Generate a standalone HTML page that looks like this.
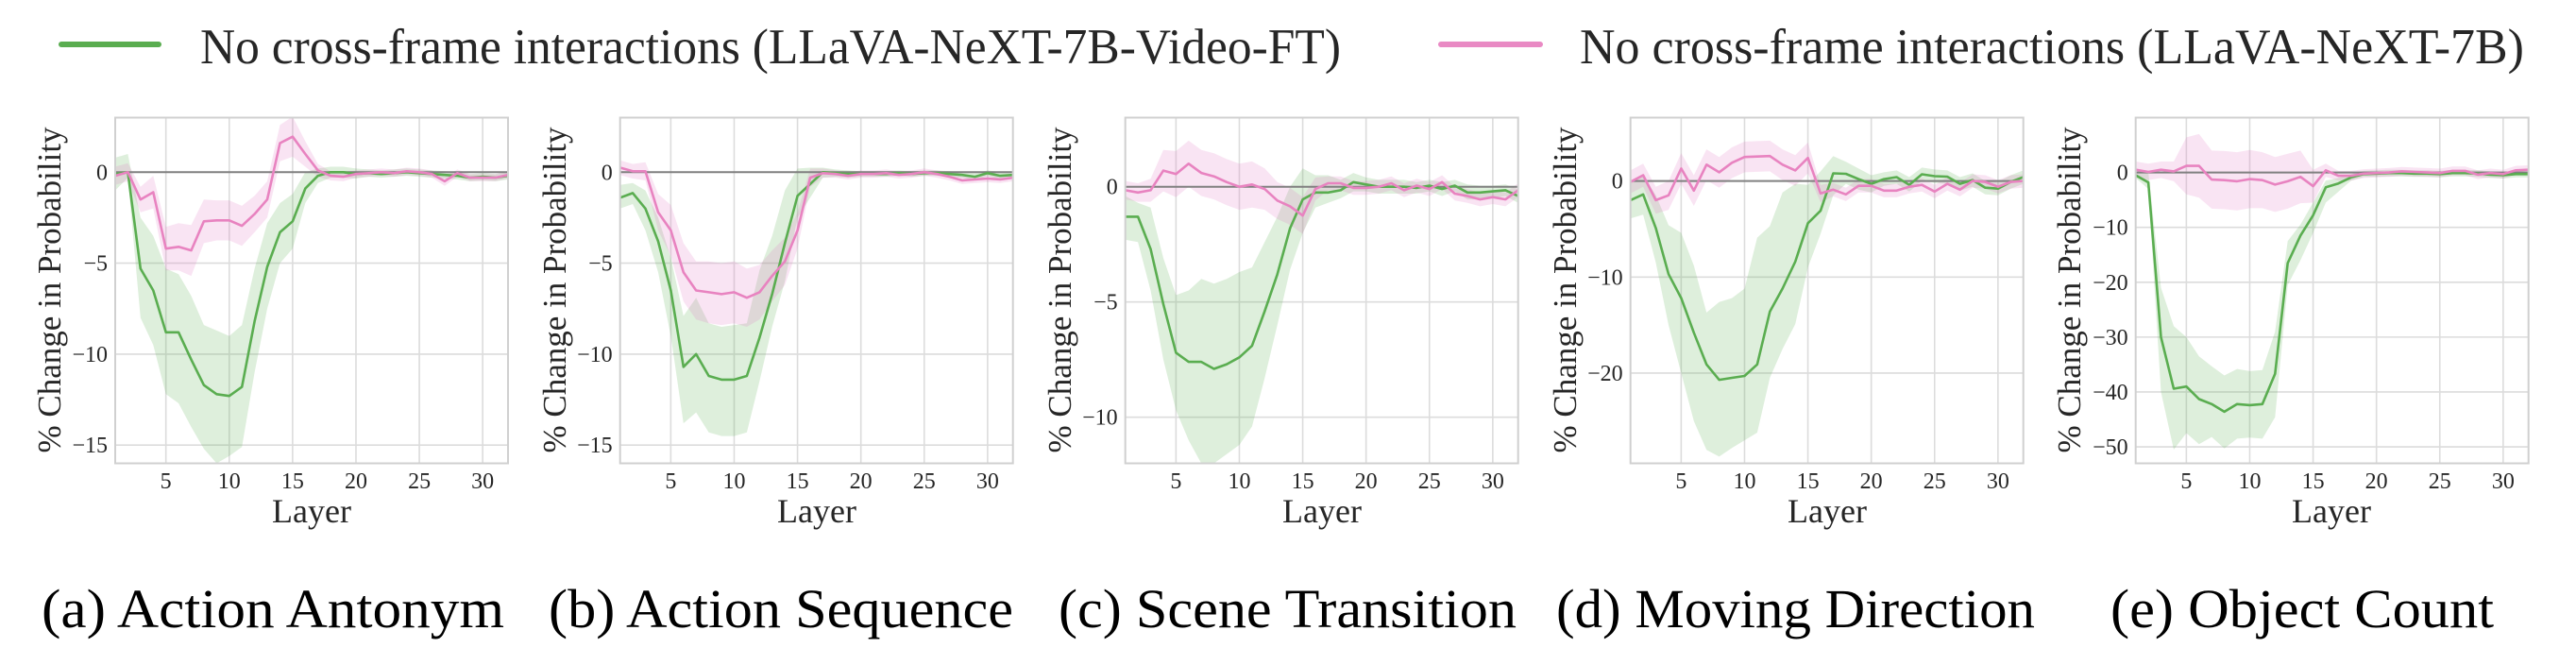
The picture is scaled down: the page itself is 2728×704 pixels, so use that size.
<!DOCTYPE html>
<html><head><meta charset="utf-8"><style>
html,body{margin:0;padding:0;background:#fff;}
svg{display:block;}
svg, svg text{font-family:"Liberation Serif","DejaVu Serif",serif;}
</style></head><body>
<svg id="s" width="2728" height="704" viewBox="0 0 2728 704" xmlns="http://www.w3.org/2000/svg" font-family="Liberation Serif, DejaVu Serif, serif">
<rect width="2728" height="704" fill="#fff"/>
<line x1="65" y1="47" x2="168" y2="47" stroke="#5aad50" stroke-width="6" stroke-linecap="round"/>
<text x="212" y="67" font-family="Liberation Serif, serif" font-size="53" fill="#262626" textLength="1208" lengthAdjust="spacingAndGlyphs">No cross-frame interactions (LLaVA-NeXT-7B-Video-FT)</text>
<line x1="1526" y1="47" x2="1631" y2="47" stroke="#e98ac4" stroke-width="6" stroke-linecap="round"/>
<text x="1673" y="67" font-family="Liberation Serif, serif" font-size="53" fill="#262626" textLength="1000" lengthAdjust="spacingAndGlyphs">No cross-frame interactions (LLaVA-NeXT-7B)</text>
<g id="plots"></g>
<g font-family="Liberation Serif, serif" font-size="58" fill="#000">
<text x="44" y="664" textLength="490" lengthAdjust="spacingAndGlyphs">(a) Action Antonym</text>
<text x="581" y="664" textLength="492" lengthAdjust="spacingAndGlyphs">(b) Action Sequence</text>
<text x="1121" y="664" textLength="485" lengthAdjust="spacingAndGlyphs">(c) Scene Transition</text>
<text x="1648" y="664" textLength="507" lengthAdjust="spacingAndGlyphs">(d) Moving Direction</text>
<text x="2235" y="664" textLength="406" lengthAdjust="spacingAndGlyphs">(e) Object Count</text>
</g>
<g id="labels" font-family="Liberation Serif, serif" font-size="24" fill="#262626">
<text x="330" y="553" font-size="36" text-anchor="middle">Layer</text>
<text x="865" y="553" font-size="36" text-anchor="middle">Layer</text>
<text x="1400" y="553" font-size="36" text-anchor="middle">Layer</text>
<text x="1935" y="553" font-size="36" text-anchor="middle">Layer</text>
<text x="2469" y="553" font-size="36" text-anchor="middle">Layer</text>
<text transform="translate(64,307) rotate(-90)" font-size="35" text-anchor="middle">% Change in Probability</text>
<text transform="translate(599,307) rotate(-90)" font-size="35" text-anchor="middle">% Change in Probability</text>
<text transform="translate(1134,307) rotate(-90)" font-size="35" text-anchor="middle">% Change in Probability</text>
<text transform="translate(1669,307) rotate(-90)" font-size="35" text-anchor="middle">% Change in Probability</text>
<text transform="translate(2203,307) rotate(-90)" font-size="35" text-anchor="middle">% Change in Probability</text>
</g>
<g id="ticks" font-family="Liberation Serif, serif" font-size="24" fill="#262626"></g>
</svg>
<script>
var P=[
{l:122,ymin:-16,ymax:3,yt:[0,-5,-10,-15],
g:[-0.1,0,-5.3,-6.5,-8.8,-8.8,-10.3,-11.7,-12.2,-12.3,-11.8,-8.2,-5.2,-3.3,-2.7,-0.9,-0.2,0,0,-0.1,-0.05,-0.1,-0.05,0,-0.05,-0.1,-0.15,-0.2,-0.3,-0.25,-0.3,-0.2],
gu:[0.8,1.0,-2.5,-3.5,-5.3,-5.6,-6.8,-8.4,-8.7,-9.0,-8.4,-5.3,-2.8,-1.7,-1.2,0,0.2,0.3,0.3,0.2,0.15,0.1,0.15,0.2,0.15,0.1,0.05,0,-0.1,-0.05,-0.1,0],
gl:[-1.0,-0.3,-8.0,-9.5,-12.2,-12.7,-14,-15.2,-16,-15.6,-15.1,-11,-7.5,-5,-4.2,-1.7,-0.6,-0.3,-0.3,-0.35,-0.25,-0.3,-0.25,-0.2,-0.25,-0.3,-0.35,-0.4,-0.5,-0.45,-0.5,-0.4],
p:[-0.2,0,-1.5,-1.1,-4.2,-4.1,-4.3,-2.7,-2.65,-2.65,-2.95,-2.3,-1.5,1.6,1.95,1.0,0.1,-0.2,-0.25,-0.1,-0.05,0,-0.05,0.05,0,-0.1,-0.5,-0.05,-0.3,-0.3,-0.3,-0.15],
pe:[0.5,0.5,0.7,0.9,1.2,1.3,1.4,1.2,1.1,1.1,1.1,1.0,1.0,1.0,1.1,0.7,0.35,0.25,0.25,0.2,0.2,0.2,0.2,0.2,0.2,0.2,0.25,0.2,0.2,0.2,0.2,0.2]},
{l:656.7,ymin:-16,ymax:3,yt:[0,-5,-10,-15],
g:[-1.4,-1.15,-2.0,-3.8,-6.5,-10.7,-10.0,-11.2,-11.4,-11.4,-11.2,-9.1,-6.7,-3.9,-1.3,-0.65,0,-0.05,-0.1,-0.1,-0.1,-0.1,-0.05,-0.1,-0.05,-0.05,-0.1,-0.15,-0.25,-0.05,-0.2,-0.15],
gu:[-0.7,-0.6,-1.0,-2.5,-4.7,-7.9,-6.9,-8.3,-8.5,-8.4,-8.3,-5.4,-3.5,-1.0,0.2,0.25,0.25,0.15,0.1,0.05,0.05,0.05,0.1,0.05,0.1,0.1,0.05,0,-0.05,0.1,0,0.05],
gl:[-2.0,-1.75,-3.2,-5.5,-9,-13.8,-13.2,-14.3,-14.5,-14.5,-14.3,-11.5,-8.5,-6,-2.5,-1.4,-0.3,-0.25,-0.3,-0.25,-0.25,-0.25,-0.2,-0.25,-0.2,-0.2,-0.25,-0.3,-0.45,-0.2,-0.4,-0.3],
p:[0.25,0.05,0.05,-2.2,-3.2,-5.5,-6.5,-6.6,-6.7,-6.6,-6.9,-6.6,-5.7,-4.9,-3.2,-0.3,-0.05,-0.1,-0.2,-0.1,-0.1,-0.05,-0.15,-0.1,0,-0.1,-0.25,-0.45,-0.4,-0.35,-0.4,-0.3],
pe:[0.4,0.4,0.5,1.0,1.4,1.6,1.6,1.7,1.7,1.7,1.6,1.5,1.4,1.3,1.0,0.5,0.25,0.2,0.2,0.2,0.2,0.2,0.2,0.2,0.2,0.2,0.2,0.2,0.2,0.2,0.2,0.2]},
{l:1191.7,ymin:-12,ymax:3,yt:[0,-5,-10],
g:[-1.3,-1.3,-2.7,-5.1,-7.2,-7.6,-7.6,-7.9,-7.7,-7.4,-6.9,-5.4,-3.8,-1.8,-0.55,-0.25,-0.25,-0.15,0.2,0.1,0,0,0,-0.05,0.05,-0.1,0.05,-0.25,-0.25,-0.2,-0.15,-0.4],
gu:[-0.4,-0.7,-0.9,-3.1,-4.7,-4.5,-4.0,-4.2,-4.0,-3.7,-3.5,-2.4,-1.3,0,0.8,0.5,0.5,0.3,0.6,0.4,0.3,0.3,0.3,0.2,0.3,0.2,0.3,0.1,0.05,0.05,0.1,-0.1],
gl:[-2.3,-2.4,-4.5,-7.5,-9.7,-11,-12,-12,-11.6,-11.2,-10.4,-8.3,-6,-3.6,-2.0,-0.9,-0.7,-0.5,-0.2,-0.2,-0.3,-0.3,-0.3,-0.3,-0.2,-0.4,-0.2,-0.55,-0.55,-0.5,-0.4,-0.7],
p:[-0.15,-0.25,-0.15,0.7,0.55,1.0,0.6,0.45,0.2,0,0.1,-0.1,-0.6,-0.85,-1.25,-0.1,0.15,0.15,-0.05,-0.05,0,0.15,-0.15,0.05,-0.1,0.2,-0.3,-0.4,-0.55,-0.45,-0.55,-0.15],
pe:[0.4,0.4,0.5,0.9,1.0,1.0,1.0,1.0,1.0,1.0,1.0,0.9,0.8,0.8,0.8,0.5,0.3,0.3,0.3,0.3,0.3,0.3,0.3,0.3,0.3,0.3,0.3,0.3,0.3,0.3,0.3,0.3]},
{l:1726.7,ymin:-29.4,ymax:6.6,yt:[0,-10,-20],
g:[-2.0,-1.4,-4.9,-9.7,-12.2,-15.8,-19.1,-20.7,-20.5,-20.3,-19.1,-13.6,-11.2,-8.4,-4.4,-3.1,0.8,0.75,0.2,-0.3,0.2,0.4,-0.4,0.7,0.5,0.45,-0.3,0.1,-0.7,-0.8,-0.1,0.4],
gu:[-0.2,0.6,-1.5,-4.6,-5.4,-8.8,-13.7,-12.6,-12.2,-11.2,-5.9,-4.7,-1.2,-0.3,-0.4,1.0,2.6,2.0,1.3,0.6,0.9,1.1,0.4,1.4,1.2,1.1,0.4,0.8,0,-0.1,0.6,1.1],
gl:[-3.9,-3.5,-8.5,-15,-20,-25,-28,-28.7,-27.8,-27,-26.2,-20.5,-17.5,-14.9,-9,-5.5,-1.5,-0.3,-0.9,-1.2,-0.5,-0.3,-1.1,0,-0.2,-0.3,-1.0,-0.6,-1.4,-1.5,-0.8,-0.3],
p:[-0.1,0.6,-2.0,-1.5,1.3,-1.0,1.7,0.9,1.9,2.5,2.55,2.6,1.7,1.1,2.4,-1.3,-0.9,-1.4,-0.5,-0.5,-1.0,-1.0,-0.6,-0.4,-1.1,-0.3,-0.9,0,-0.1,-0.6,-0.1,0],
pe:[1.2,1.2,1.4,1.5,1.6,1.6,1.6,1.6,1.6,1.6,1.6,1.6,1.6,1.6,1.6,0.9,0.7,0.7,0.7,0.7,0.7,0.7,0.7,0.7,0.7,0.7,0.7,0.7,0.7,0.7,0.7,0.7]},
{l:2261.7,ymin:-53,ymax:10,yt:[0,-10,-20,-30,-40,-50],
g:[-0.5,-1.8,-30,-39.4,-39,-41.3,-42.2,-43.6,-42.2,-42.4,-42.2,-36.7,-16.5,-11.5,-7.8,-2.7,-2.0,-0.9,-0.3,-0.2,-0.1,-0.1,-0.2,-0.2,-0.3,-0.1,-0.1,-0.2,-0.4,-0.5,-0.3,-0.3],
gu:[0,0,-21,-28,-30,-33.5,-35.3,-37,-35.8,-36.2,-36,-29,-12.5,-9.5,-5.5,-1.5,-1.0,-0.3,0.3,0.4,0.5,0.5,0.4,0.4,0.3,0.5,0.5,0.4,0.2,0.1,0.3,0.3],
gl:[-1.0,-3,-40,-50.5,-47.5,-49.5,-48.2,-50.3,-48.5,-48.3,-48.5,-44.6,-20.5,-16,-11,-5.5,-3.5,-1.5,-0.8,-0.8,-0.7,-0.7,-0.8,-0.8,-0.9,-0.7,-0.7,-0.8,-1,-1.1,-0.9,-0.9],
p:[0.5,0.1,0.5,0.2,1.2,1.2,-1.3,-1.4,-1.6,-1.2,-1.4,-2.2,-1.6,-0.8,-2.5,0.4,-0.6,-0.6,-0.2,-0.1,0,0.2,0.1,0,-0.1,0.3,0.3,-0.4,-0.1,-0.3,0.4,0.5],
pe:[1.5,1.5,1.5,1.8,5.2,5.8,5.3,5.3,5.3,5.3,5.1,5.0,5.0,4.8,3.0,1.2,0.9,0.9,0.8,0.8,0.8,0.8,0.8,0.8,0.8,0.8,0.8,0.8,0.8,0.8,0.8,0.8]}
];
var NS="http://www.w3.org/2000/svg",g=document.getElementById("plots");
var TOP=124.5,BOT=490.5,W=416;
function el(t,a,par){var e=document.createElementNS(NS,t);for(var k in a)e.setAttribute(k,a[k]);(par||g).appendChild(e);return e;}
var TK=document.getElementById("ticks");
P.forEach(function(o){
 var L=o.l,R=L+W;
 var X=function(i){return L+(i)*(W/31);};
 var Y=function(v){return TOP+(o.ymax-v)/(o.ymax-o.ymin)*(BOT-TOP);};
 var id="c"+Math.round(L);
 var cp=el("clipPath",{id:id});el("rect",{x:L,y:TOP,width:W,height:BOT-TOP},cp);
 [5,10,15,20,25,30].forEach(function(t){var x=X(t-1);el("line",{x1:x,y1:TOP,x2:x,y2:BOT,stroke:"#dcdcdc","stroke-width":1.6});
   var tx=el("text",{x:x,y:517,"text-anchor":"middle","font-size":24,fill:"#262626","font-family":"Liberation Serif, serif"},TK);tx.textContent=t;});
 o.yt.forEach(function(t){var y=Y(t);if(t!==0)el("line",{x1:L,y1:y,x2:R,y2:y,stroke:"#dcdcdc","stroke-width":1.6});
   var tx=el("text",{x:L-8,y:y+8,"text-anchor":"end","font-size":24,fill:"#262626","font-family":"Liberation Serif, serif"},TK);tx.textContent=t<0?"\u2212"+(-t):t;});
 var gg=el("g",{"clip-path":"url(#"+id+")"});
 function band(u,l,c){var d="M";for(var i=0;i<32;i++)d+=X(i).toFixed(1)+","+Y(u[i]).toFixed(1)+" L";for(var i=31;i>=0;i--)d+=X(i).toFixed(1)+","+Y(l[i]).toFixed(1)+(i?" L":"Z");el("path",{d:d,fill:c,"fill-opacity":0.2},gg);}
 function line(m,c){var d="M";for(var i=0;i<32;i++)d+=X(i).toFixed(1)+","+Y(m[i]).toFixed(1)+(i<31?" L":"");el("path",{d:d,fill:"none",stroke:c,"stroke-width":2.6,"stroke-linejoin":"round"},gg);}
 band(o.gu,o.gl,"#5aad50");
 band(o.p.map(function(v,i){return v+o.pe[i];}),o.p.map(function(v,i){return v-o.pe[i];}),"#e377c2");
 el("line",{x1:L,y1:Y(0),x2:R,y2:Y(0),stroke:"#808080","stroke-width":2},gg);
 line(o.g,"#5aad50");line(o.p,"#e883c0");
 el("rect",{x:L,y:TOP,width:W,height:BOT-TOP,fill:"none",stroke:"#d0d0d0","stroke-width":2});
});
</script>
</body></html>
